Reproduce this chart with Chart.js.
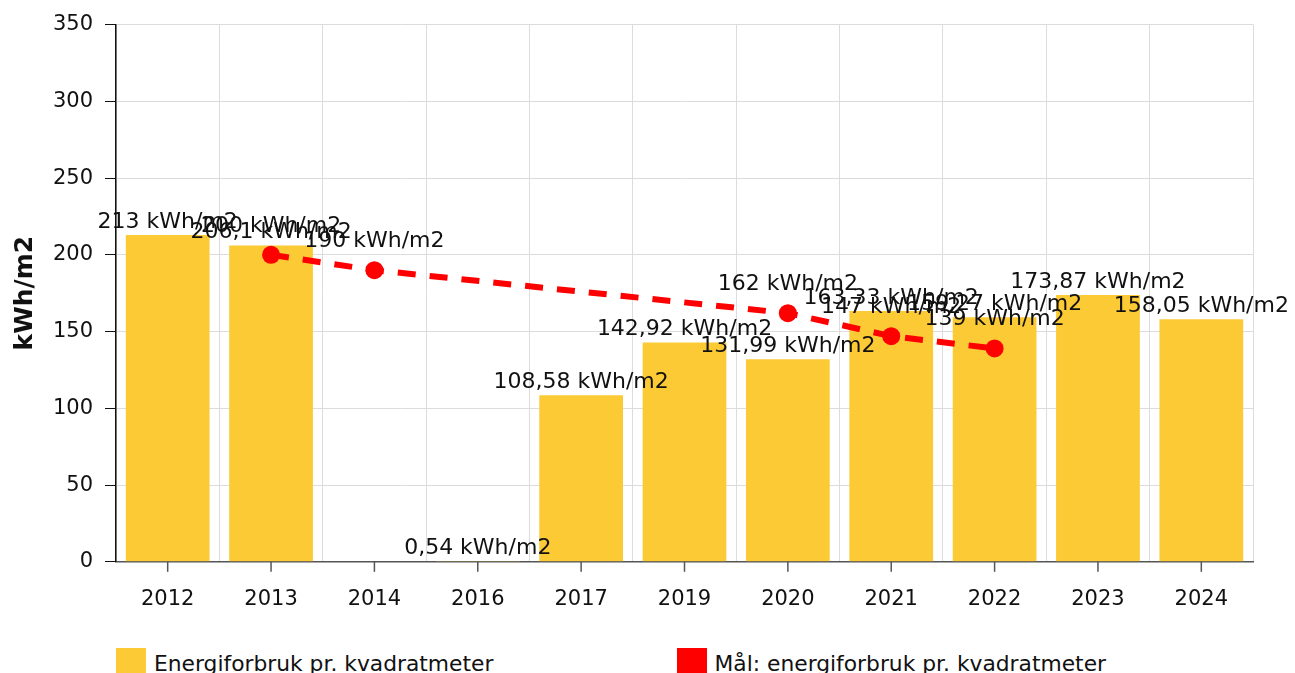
<!DOCTYPE html>
<html>
<head>
<meta charset="utf-8">
<script src="https://cdn.jsdelivr.net/npm/chart.js@4.4.1/dist/chart.umd.min.js"></script>
<style>
  body { margin: 0; background: #fff; font-family: "DejaVu Sans", sans-serif; overflow: hidden; }
  #wrap { position: relative; width: 1295px; height: 627px; }
  #legend { position: relative; height: 60px; }
  .item { position: absolute; top: 21px; display: flex; align-items: center; font-size: 21.8px; color: #111; }
  .box { width: 30px; height: 30px; margin-right: 8px; box-sizing: border-box; }
</style>
</head>
<body>
<div id="wrap"><canvas id="myChart"></canvas></div>
<div id="legend"></div>
<script>
const years = ['2012', '2013', '2014', '2016', '2017', '2019', '2020', '2021', '2022', '2023', '2024'];
const usage = [213, 206.1, null, 0.54, 108.58, 142.92, 131.99, 163.33, 159.27, 173.87, 158.05];
const target = [null, 200, 190, null, null, null, 162, 147, 139, null, null];
const yTicks = [0, 50, 100, 150, 200, 250, 300, 350];
const usageName = 'Energiforbruk pr. kvadratmeter';
const targetName = 'Mål: energiforbruk pr. kvadratmeter';
const unit = 'kWh/m2';

const FONT = '"DejaVu Sans", sans-serif';
const fmt = function (v) {
  return String(v).replace('.', ',') + ' ' + unit;
};

// value labels over bars and points
const valueLabels = {
  id: 'valueLabels',
  afterDatasetsDraw(chart) {
    const ctx = chart.ctx;
    ctx.save();
    ctx.font = '22px ' + FONT;
    ctx.fillStyle = '#111';
    ctx.textAlign = 'center';
    ctx.textBaseline = 'bottom';
    chart.data.datasets.forEach(function (ds, di) {
      const meta = chart.getDatasetMeta(di);
      const lift = ds.type === 'line' ? 18 : 2;
      meta.data.forEach(function (el, i) {
        const v = ds.data[i];
        if (v === null || v === undefined) return;
        ctx.fillText(fmt(v), el.x, el.y - lift);
      });
    });
    ctx.restore();
  }
};

// x tick marks at category centres (grid lines sit between)
const centerTicks = {
  id: 'centerTicks',
  afterDraw(chart) {
    const sx = chart.scales.x;
    const ctx = chart.ctx;
    ctx.save();
    ctx.strokeStyle = '#555';
    ctx.lineWidth = 1.5;
    sx.ticks.forEach(function (t, i) {
      const px = sx.getPixelForTick(i);
      ctx.beginPath();
      ctx.moveTo(px, sx.top);
      ctx.lineTo(px, sx.top + 10);
      ctx.stroke();
    });
    ctx.restore();
  }
};

let ctx = document.getElementById('myChart').getContext('2d');
window.myChart = new Chart(ctx, {
  data: {
    labels: years,
    datasets: [
      {
        type: 'line',
        label: targetName,
        data: target,
        order: 0,
        spanGaps: true,
        borderColor: '#ff0000',
        backgroundColor: '#ff0000',
        borderWidth: 6,
        borderDash: [18, 14],
        pointRadius: 9,
        pointHoverRadius: 9,
        pointBackgroundColor: '#ff0000',
        pointBorderWidth: 0,
        tension: 0,
      },
      {
        type: 'bar',
        label: usageName,
        data: usage,
        order: 1,
        backgroundColor: 'rgba(252, 202, 52, 1)',
        borderWidth: 0,
        categoryPercentage: 1,
        barPercentage: 0.81,
      },
    ],
  },
  options: {
    responsive: true,
    maintainAspectRatio: false,
    animation: false,
    layout: { padding: { left: 10, right: 42, top: 12, bottom: 0 } },
    plugins: {
      legend: { display: false },
      tooltip: { enabled: false },
    },
    scales: {
      x: {
        offset: true,
        grid: { offset: true, color: '#dcdcdc', tickLength: 10, tickColor: 'rgba(0,0,0,0)' },
        border: { color: '#555', width: 1.5 },
        ticks: { color: '#111', font: { family: FONT, size: 21 }, padding: 15, maxRotation: 0 },
      },
      y: {
        min: 0,
        max: 350,
        afterBuildTicks: function (scale) {
          scale.ticks = yTicks.map(function (v) { return { value: v }; });
        },
        afterFit: function (scale) {
          scale.width = 106;
        },
        grid: { color: '#dcdcdc', tickLength: 11, tickColor: '#111' },
        border: { color: '#111', width: 1.5 },
        ticks: { color: '#111', font: { family: FONT, size: 21 }, padding: 12 },
        title: {
          display: true,
          text: unit,
          color: '#111',
          font: { family: FONT, size: 25, weight: 'bold' },
          padding: { top: 0, bottom: 4 },
        },
      },
    },
  },
  plugins: [valueLabels, centerTicks],
});

// html legend, two columns over the plot area
const legendEl = document.getElementById('legend');
const area = window.myChart.chartArea;
const half = (area.right - area.left) / 2;
[usageName, targetName].forEach(function (name, i) {
  const ds = window.myChart.data.datasets.find(function (d) { return d.label === name; });
  const item = document.createElement('div');
  item.className = 'item';
  item.style.left = (area.left + i * (half - 8)) + 'px';
  const box = document.createElement('span');
  box.className = 'box';
  box.style.background = ds.backgroundColor;
  item.appendChild(box);
  item.appendChild(document.createTextNode(name));
  legendEl.appendChild(item);
});
</script>
</body>
</html>
